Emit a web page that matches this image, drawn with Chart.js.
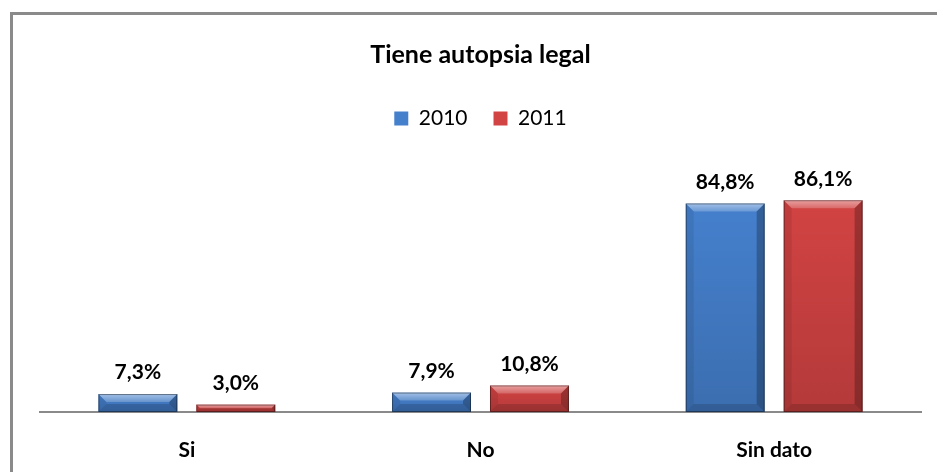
<!DOCTYPE html>
<html>
<head>
<meta charset="utf-8">
<script src="https://cdn.jsdelivr.net/npm/chart.js@4"></script>
<style>
  html, body { margin: 0; padding: 0; background: #fff; }
  #wrap { position: relative; width: 937px; height: 472px; }
</style>
</head>
<body>
<div id="wrap"><canvas id="autopsia-chart" width="937" height="472"></canvas></div>
<script>
const categories = ["Si", "No", "Sin dato"];
const years = ["2010", "2011"];
const values2010 = [7.3, 7.9, 84.8];
const values2011 = [3.0, 10.8, 86.1];
const colors = ["#4580cd", "#d24343"];

// frame: only top and left edges are visible in the crop
const framePlugin = {
  id: "frame",
  beforeDraw: (chart) => {
    const ctx = chart.ctx;
    ctx.save();
    ctx.strokeStyle = "#8a8a8a";
    ctx.lineWidth = 3;
    ctx.beginPath();
    ctx.moveTo(11.5, 472);
    ctx.lineTo(11.5, 13.5);
    ctx.lineTo(937, 13.5);
    ctx.stroke();
    ctx.restore();
  },
};

// bevel look on each bar
const bevelPlugin = {
  id: "bevel",
  afterDatasetsDraw: (chart) => {
    const ctx = chart.ctx;
    ctx.save();
    chart.data.datasets.forEach((ds, i) => {
      chart.getDatasetMeta(i).data.forEach((bar) => {
        const l = bar.x - bar.width / 2;
        const r = bar.x + bar.width / 2;
        const t = bar.y;
        const b = bar.base;
        const s = Math.min(8, (b - t) / 2);
        // darker towards the bottom
        let g = ctx.createLinearGradient(0, t, 0, b);
        g.addColorStop(0, "rgba(0,0,0,0)");
        g.addColorStop(1, "rgba(0,0,0,0.14)");
        ctx.fillStyle = g;
        ctx.fillRect(l, t, r - l, b - t);
        // top
        g = ctx.createLinearGradient(0, t, 0, t + s);
        g.addColorStop(0, "rgba(255,255,255,0.5)");
        g.addColorStop(1, "rgba(255,255,255,0.2)");
        ctx.fillStyle = g;
        ctx.beginPath();
        ctx.moveTo(l, t); ctx.lineTo(r, t); ctx.lineTo(r - s, t + s); ctx.lineTo(l + s, t + s);
        ctx.closePath(); ctx.fill();
        // right side
        ctx.fillStyle = "rgba(0,0,0,0.25)";
        ctx.beginPath();
        ctx.moveTo(r, t); ctx.lineTo(r, b); ctx.lineTo(r - s, b - s); ctx.lineTo(r - s, t + s);
        ctx.closePath(); ctx.fill();
        // left side
        ctx.fillStyle = "rgba(0,0,0,0.08)";
        ctx.beginPath();
        ctx.moveTo(l, t); ctx.lineTo(l, b); ctx.lineTo(l + s, b - s); ctx.lineTo(l + s, t + s);
        ctx.closePath(); ctx.fill();
        // bottom
        ctx.fillStyle = "rgba(0,0,0,0.15)";
        ctx.beginPath();
        ctx.moveTo(l, b); ctx.lineTo(r, b); ctx.lineTo(r - s, b - s); ctx.lineTo(l + s, b - s);
        ctx.closePath(); ctx.fill();
        ctx.strokeStyle = "rgba(0,0,0,0.4)";
        ctx.lineWidth = 1;
        ctx.strokeRect(l + 0.5, t + 0.5, r - l - 1, b - t - 1);
      });
    });
    ctx.restore();
  },
};

// value labels over bars
const labelPlugin = {
  id: "valueLabels",
  afterDatasetsDraw: (chart) => {
    const ctx = chart.ctx;
    ctx.save();
    ctx.font = "bold 21px Lato";
    ctx.fillStyle = "#000";
    ctx.textAlign = "center";
    ctx.textBaseline = "bottom";
    chart.data.datasets.forEach((ds, i) => {
      chart.getDatasetMeta(i).data.forEach((bar, j) => {
        const txt = ds.data[j].toFixed(1).replace(".", ",") + "%";
        ctx.fillText(txt, bar.x, bar.y - 11);
      });
    });
    ctx.restore();
  },
};

new Chart(document.getElementById("autopsia-chart"), {
  type: "bar",
  data: {
    labels: categories,
    datasets: [
      { label: years[0], data: values2010, backgroundColor: colors[0] },
      { label: years[1], data: values2011, backgroundColor: colors[1] },
    ],
  },
  options: {
    responsive: false,
    animation: false,
    layout: { padding: { left: 40, right: 16, top: 40, bottom: 0 } },
    datasets: { bar: { categoryPercentage: 0.667, barPercentage: 0.806 } },
    scales: {
      x: {
        grid: { display: false },
        border: { display: true, color: "#8a8a8a", width: 2 },
        ticks: { color: "#000", font: { family: "Lato", size: 21, weight: "bold" }, padding: 18 },
        afterFit: (scale) => { scale.height = 60; },
      },
      y: { display: false, min: 0, max: 111 },
    },
    plugins: {
      title: {
        display: true,
        text: "Tiene autopsia legal",
        color: "#000",
        font: { family: "Lato", size: 25, weight: "bold" },
        padding: { top: 0, bottom: 12 },
      },
      legend: {
        labels: {
          color: "#000",
          font: { family: "Lato", size: 21 },
          boxWidth: 14,
          boxHeight: 14,
          padding: 26,
        },
      },
      tooltip: { enabled: false },
    },
  },
  plugins: [framePlugin, bevelPlugin, labelPlugin],
});
</script>
</body>
</html>
